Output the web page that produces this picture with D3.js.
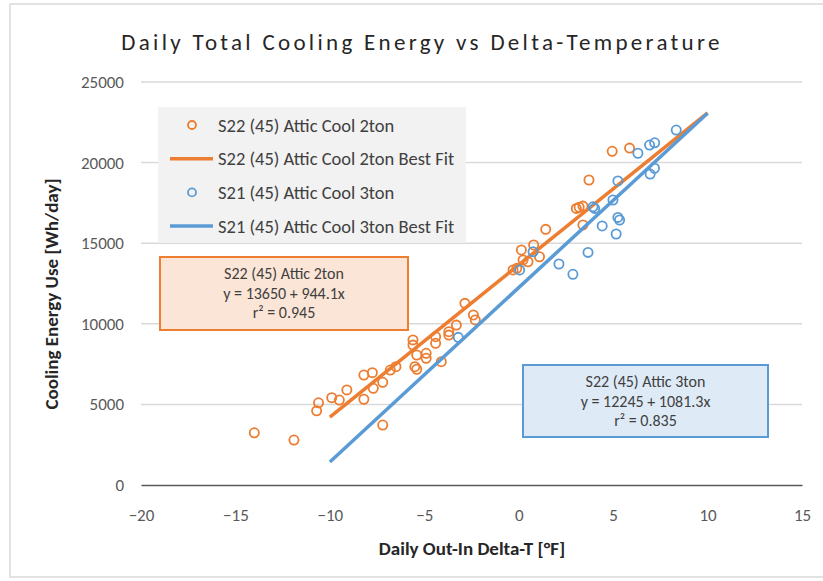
<!DOCTYPE html>
<html>
<head>
<meta charset="utf-8">
<script src="https://cdn.jsdelivr.net/npm/d3@7"></script>
<style>
  body { margin: 0; background: #fff; }
  svg { font-family: Carlito, "Liberation Sans", Arial, sans-serif; }
</style>
</head>
<body>
<svg id="chart" width="823" height="581"></svg>
<script>
// Daily Out-In Delta-T [°F] vs daily cooling energy [Wh/day]
const orangeX = [-14.0, -11.9, -10.7, -10.6, -9.9, -9.5, -9.1, -8.2, -8.2, -7.75, -7.7, -7.2, -7.2,
  -6.8, -6.5, -5.6, -5.6, -5.5, -5.4, -5.4, -4.9, -4.9, -4.4, -4.4, -4.1, -3.7, -3.7, -3.3,
  -2.85, -2.4, -2.3, -0.3, -0.1, 0.14, 0.49, 0.23, 0.79, 1.1, 1.43, 3.05, 3.2, 3.4, 3.4, 3.72, 4.95, 5.87];
const orangeY = [3240, 2790, 4600, 5100, 5420, 5270, 5900, 6820, 5320, 6970, 6000, 6370, 3720,
  7130, 7340, 9000, 8680, 7340, 7180, 8060, 8170, 7860, 9200, 8790, 7650, 9510, 9300, 9920,
  11270, 10550, 10240, 13340, 13440, 14580, 13850, 13960, 14890, 14160, 15860, 17160, 17230, 17300, 16130, 18920, 20700, 20900];

const blueX = [-3.2, 0.05, 0.76, 2.13, 2.87, 3.67, 3.93, 4.02, 4.42, 4.99, 5.25, 5.25, 5.34, 5.16,
  6.31, 6.93, 7.2, 7.19, 6.96, 8.34];
const blueY = [9160, 13340, 14470, 13710, 13070, 14430, 17260, 17160, 16070, 17680, 18860, 16600, 16440, 15570,
  20580, 21090, 21230, 19650, 19290, 22020];

// best fit lines (end points)
const fitX = [-10, 10];
const orangeFitY = [4210, 23090];
const blueFitY = [1430, 23060];

const xTicks = [-20, -15, -10, -5, 0, 5, 10, 15];
const yTicks = [0, 5000, 10000, 15000, 20000, 25000];

const seriesNames = ["S22 (45) Attic Cool 2ton", "S22 (45) Attic Cool 2ton Best Fit",
  "S21 (45) Attic Cool 3ton", "S21 (45) Attic Cool 3ton Best Fit"];
const orangeBox = ["S22 (45) Attic 2ton", "y = 13650 + 944.1x", "r² = 0.945"];
const blueBox = ["S22 (45) Attic 3ton", "y = 12245 + 1081.3x", "r² = 0.835"];

const ORANGE = "#ed7d31";
const BLUE = "#5b9bd5";
const FONT = "Carlito, 'Liberation Sans', Arial, sans-serif";

const svg = d3.select("#chart");

// outer chart border
svg.append("rect")
  .attr("x", 10).attr("y", 4)
  .attr("width", 830).attr("height", 573)
  .attr("fill", "none").attr("stroke", "#d9d9d9").attr("stroke-width", 1.5);

const x = d3.scaleLinear().domain([-20, 15]).range([141, 802]);
const y = d3.scaleLinear().domain([0, 25000]).range([485, 82]);

// gridlines
svg.append("g")
  .selectAll("line")
  .data(yTicks.filter(d => d > 0))
  .join("line")
  .attr("x1", 141).attr("x2", 802)
  .attr("y1", d => y(d)).attr("y2", d => y(d))
  .attr("stroke", "#d9d9d9").attr("stroke-width", 1.5);

// x axis
const xAxis = svg.append("g")
  .attr("transform", `translate(0, ${y(0)})`)
  .call(d3.axisBottom(x).tickValues(xTicks).tickSize(0).tickPadding(24));
xAxis.select(".domain").attr("stroke", "#595959").attr("stroke-width", 1.5);
xAxis.selectAll("text").attr("fill", "#595959").style("font-size", "17px").style("font-family", FONT);

// y axis
const yAxis = svg.append("g")
  .attr("transform", `translate(${x(-20)}, 0)`)
  .call(d3.axisLeft(y).tickValues(yTicks).tickSize(0).tickPadding(17).tickFormat(d3.format("d")));
yAxis.select(".domain").remove();
yAxis.selectAll("text").attr("fill", "#595959").style("font-size", "17px").style("font-family", FONT);

// series
const orangePts = orangeX.map((v, i) => [v, orangeY[i]]);
const bluePts = blueX.map((v, i) => [v, blueY[i]]);
const line = d3.line().x(d => x(d[0])).y(d => y(d[1]));

svg.append("g").selectAll("circle")
  .data(orangePts)
  .join("circle")
  .attr("cx", d => x(d[0])).attr("cy", d => y(d[1])).attr("r", 4.6)
  .attr("fill", "none").attr("stroke", ORANGE).attr("stroke-width", 1.8);

svg.append("path")
  .datum(fitX.map((v, i) => [v, orangeFitY[i]]))
  .attr("d", line).attr("fill", "none").attr("stroke", ORANGE).attr("stroke-width", 3.5);

svg.append("g").selectAll("circle")
  .data(bluePts)
  .join("circle")
  .attr("cx", d => x(d[0])).attr("cy", d => y(d[1])).attr("r", 4.6)
  .attr("fill", "none").attr("stroke", BLUE).attr("stroke-width", 1.8);

svg.append("path")
  .datum(fitX.map((v, i) => [v, blueFitY[i]]))
  .attr("d", line).attr("fill", "none").attr("stroke", BLUE).attr("stroke-width", 3.5);

// legend
const legend = svg.append("g");
legend.append("rect")
  .attr("x", 158).attr("y", 107).attr("width", 308).attr("height", 136)
  .attr("fill", "#f2f2f2");
const rows = legend.selectAll("g.row")
  .data(seriesNames)
  .join("g")
  .attr("class", "row")
  .attr("transform", (d, i) => `translate(0, ${125 + i * 33.7})`);
rows.each(function(d, i) {
  const g = d3.select(this);
  const c = i < 2 ? ORANGE : BLUE;
  if (i % 2 === 0) {
    g.append("circle").attr("cx", 192).attr("cy", 0).attr("r", 4)
      .attr("fill", "none").attr("stroke", c).attr("stroke-width", 1.8);
  } else {
    g.append("line").attr("x1", 170).attr("x2", 213).attr("y1", 0).attr("y2", 0)
      .attr("stroke", c).attr("stroke-width", 3.5);
  }
  g.append("text").attr("x", 218).attr("y", 6.5)
    .attr("fill", "#404040").style("font-size", "18.5px").text(d);
});

// annotation boxes
function note(lines, bx, by, bw, bh, fill, stroke) {
  const g = svg.append("g");
  g.append("rect").attr("x", bx).attr("y", by).attr("width", bw).attr("height", bh)
    .attr("fill", fill).attr("stroke", stroke).attr("stroke-width", 2);
  g.selectAll("text")
    .data(lines)
    .join("text")
    .attr("x", bx + bw / 2)
    .attr("y", (d, i) => by + 22 + i * 19.5)
    .attr("text-anchor", "middle")
    .attr("fill", "#404040")
    .style("font-size", "16px")
    .text(d => d);
}
note(orangeBox, 160, 257, 248, 73, "#fbe5d6", ORANGE);
note(blueBox, 523, 365, 245, 72, "#deebf7", BLUE);

// title and axis labels
svg.append("text")
  .attr("x", 422).attr("y", 50)
  .attr("text-anchor", "middle")
  .attr("fill", "#262626")
  .style("font-size", "23px")
  .style("letter-spacing", "3.3px")
  .text("Daily Total Cooling Energy vs Delta-Temperature");

svg.append("text")
  .attr("x", 472).attr("y", 555)
  .attr("text-anchor", "middle")
  .attr("fill", "#262626")
  .style("font-size", "19px").style("font-weight", "bold")
  .text("Daily Out-In Delta-T [°F]");

svg.append("text")
  .attr("transform", "translate(58, 294) rotate(-90)")
  .attr("text-anchor", "middle")
  .attr("fill", "#262626")
  .style("font-size", "19px").style("font-weight", "bold")
  .text("Cooling Energy Use [Wh/day]");
</script>
</body>
</html>
